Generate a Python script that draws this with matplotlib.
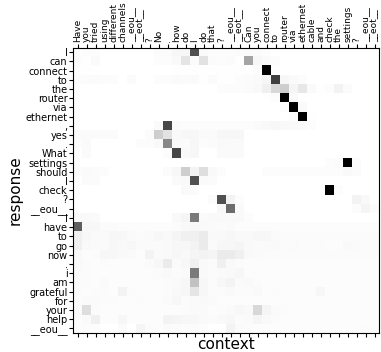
import numpy as np
import matplotlib
matplotlib.use("Agg")
import matplotlib.pyplot as plt

# tokens of the context (columns) and of the response (rows)
context = ["Have", "you", "tried", "using", "different", "channels", "__eou__", "__eot__",
           "?", "No", ".", "how", "do", "I", "do", "that", "?", "__eou__", "__eot__",
           "Can", "you", "connect", "to", "router", "via", "ethernet", "cable", "and",
           "check", "the", "settings", "?", "__eou__", "__eot__"]
response = ["I", "can", "connect", "to", "the", "router", "via", "ethernet", ",", "yes", ".",
            "What", "settings", "should", "I", "check", "?", "__eou__",
            "I", "have", "to", "go", "now", ".", "i", "am", "grateful", "for", "your", "help", "__eou__"]

# attention weights, one row per response token
w01 = [.01,.02,.02,0,0,0,0,0,0,.03,.03,.06,.07,.75,.04,.02,.02,.02,.03,.04,.03,.02,0,0,0,0,0,0,0,0,0,0,0,0]
w02 = [.02,.01,.04,0,0,0,0,0,0,.02,.02,.05,.18,.03,.2,.03,.02,.03,.01,.45,.06,.04,.02,0,0,0,0,0,0,0,0,0,0,0]
w03 = [.01,.01,.01,0,0,0,0,0,0,0,0,.01,.01,.01,.01,.01,.01,.01,.01,.01,.02,1.0,.01,0,0,0,0,0,0,0,0,0,0,0]
w04 = [.02,.03,.03,.02,.02,0,.03,0,0,.02,.02,.04,.03,.04,.01,.03,.01,.01,.02,.03,.04,.08,.8,.06,.04,.02,0,0,0,0,0,0,0,0]
w05 = [0,0,0,0,0,0,0,0,0,0,0,0,0,0,0,0,.02,.02,.02,.03,.05,.12,.25,.3,.08,.17,.04,.01,.02,.1,.03,0,0,0]
w06 = [0,0,0,0,0,0,0,0,0,0,0,0,0,0,0,0,0,0,0,0,0,.01,.02,1.0,.04,0,0,0,0,0,0,0,0,0]
w07 = [0,0,0,0,0,0,0,0,0,0,0,0,0,0,0,0,0,0,0,0,0,0,0,.02,1.0,.04,0,0,0,0,0,0,0,0]
w08 = [0,0,0,0,0,0,0,0,0,0,0,0,0,0,0,0,0,0,0,0,0,0,0,0,.02,1.0,.01,0,0,0,0,0,0,0]
w09 = [0,0,0,0,0,0,0,0,0,.04,.78,.03,.02,.02,.02,.02,.02,.02,.02,.02,.04,.05,.06,.05,.04,.04,.02,0,0,0,0,0,0,0]
w10 = [.03,.03,.03,.03,.03,0,0,0,.03,.3,.2,.05,.07,.07,.04,.04,.06,.06,.06,0,0,0,0,0,0,0,0,0,0,0,0,0,0,0]
w11 = [.02,.04,0,0,0,0,0,.02,.02,.05,.55,.05,.03,.07,.02,.03,.05,.04,.04,0,0,0,0,0,0,0,0,0,0,0,0,0,0,0]
w12 = [0,.04,0,0,0,0,0,0,0,0,.02,.78,.05,.06,0,0,.04,.04,.04,0,0,0,0,0,0,0,0,0,0,0,0,0,0,0]
w13 = [0,0,0,0,0,0,0,0,0,0,0,0,0,0,0,0,0,0,0,0,0,0,0,0,0,0,0,0,.02,.03,1.0,.03,0,0]
w14 = [.02,.04,.03,.02,0,0,0,0,0,0,.03,.07,.3,.1,.22,.05,.02,0,0,0,0,.02,.02,.02,.02,.02,.02,.02,.02,.02,.05,.03,0,0]
w15 = [0,.03,.03,0,0,0,0,0,0,0,0,.04,.05,.75,.04,.03,0,0,0,0,0,0,0,0,0,0,0,0,0,0,0,0,0,0]
w16 = [0,0,0,0,0,0,0,0,0,0,0,0,.04,.03,0,0,0,0,0,0,0,0,0,0,0,0,0,0,1.0,.02,0,0,0,0]
w17 = [0,0,0,0,0,0,0,0,0,0,0,0,0,0,0,.03,.75,.1,.02,0,0,0,0,0,0,0,0,0,0,0,0,.1,.05,0]
w18 = [0,0,0,0,0,0,0,0,0,0,0,0,0,0,0,0,.07,.65,.05,0,0,0,0,0,0,0,0,0,0,0,0,.02,.08,.03]
w19 = [.05,.05,.04,0,0,0,0,0,0,0,0,.05,.08,.6,.04,.05,.05,.05,.05,.02,0,0,0,0,0,0,0,0,0,0,0,0,0,0]
w20 = [.7,.06,.07,.03,.03,.02,.02,.02,.02,.02,.02,.03,.05,.06,.05,.04,.03,.04,.02,.02,.02,.02,.02,.02,.02,.02,.02,.02,.02,.02,.02,.02,.02,.02]
w21 = [.12,.06,.04,.04,.07,.07,.04,.03,.04,.06,.05,.08,.12,.12,.15,.05,.05,.06,.05,.05,.07,.06,.04,.03,.03,.03,.03,.03,.03,.03,.03,.03,.03,.03]
w22 = [.12,.05,.04,.04,.06,.05,.07,.04,.04,.04,.05,.06,.07,.1,.15,.04,.06,.07,.08,.05,.04,.04,.05,.03,.04,.03,.03,.03,.02,.02,.05,.04,.03,.03]
w23 = [.05,.02,.03,.06,.06,.05,.04,.02,.1,.04,.05,.06,.05,.08,.1,.08,.15,.15,.12,.05,.04,.03,.03,.03,.03,.03,.03,.03,.03,.03,.03,.03,.03,.03]
w24 = [.05,.03,.02,.03,.02,.02,.02,.02,.04,.06,.15,.04,.06,.12,.05,.03,.12,.05,.03,.02,.02,.02,.02,.02,.02,.02,.02,.02,.02,.02,.02,.02,.02,.02]
w25 = [.04,.03,.02,.02,.02,.02,.02,.02,.02,.03,.05,.03,.04,.6,.05,.03,.04,.05,.07,.02,.02,.02,.02,.02,.02,.02,.02,.02,.02,.02,.02,.02,.02,.02]
w26 = [.03,.03,.02,.04,.02,.02,.02,.02,.02,.02,.03,.04,.06,.35,.07,.03,.07,.1,.04,.05,.03,.02,.02,.02,.02,.02,.02,.02,.02,.02,.02,.02,.02,.02]
w27 = [.03,.02,.03,.03,.02,.1,.03,.02,.02,.02,.03,.05,.07,.18,.06,.03,.03,.05,.03,.03,.05,.02,.03,.02,.02,.02,.02,.07,.02,.02,.02,.02,.02,.02]
w28 = [.02,.04,.04,.03,.03,.02,.02,.03,.02,.02,.04,.07,.03,.04,.05,.04,.02,.02,.02,.02,.02,.02,.02,.02,.02,.02,.02,.02,.02,.02,.02,.02,.02,.02]
w29 = [.03,.22,.03,.02,.02,.02,.02,.02,.02,.02,.02,.02,.03,.04,.04,.02,.03,.04,.06,.05,.25,.08,.04,.03,.02,.02,.02,.02,.02,.02,.02,.02,.02,.02]
w30 = [.02,.04,.12,.02,.02,.06,.02,.02,.02,.02,.1,.08,.07,.07,.04,.03,.05,.06,.03,.04,.08,.05,.03,.02,.02,.02,.02,.02,.02,.02,.02,.02,.02,.02]
w31 = [.02,.02,.02,0,0,.03,0,.08,.03,.02,.04,.03,.02,.03,.02,0,0,.1,.04,.03,.02,.02,.02,.02,.02,.02,.02,.02,.02,.02,.02,.02,.03,.02]

weights = np.array([w01, w02, w03, w04, w05, w06, w07, w08, w09, w10, w11, w12, w13, w14, w15, w16,
                    w17, w18, w19, w20, w21, w22, w23, w24, w25, w26, w27, w28, w29, w30, w31])

fig = plt.figure(figsize=(3.81, 3.52), dpi=100)
ax = fig.add_axes([0.192, 0.054, 0.803, 0.811])
ax.imshow(weights, cmap="Greys", vmin=0, vmax=1, aspect="auto", interpolation="nearest")

ax.set_xticks(range(len(context)))
ax.set_xticklabels(context, rotation=90, fontsize=6.5)
ax.set_yticks(range(len(response)))
ax.set_yticklabels(response, fontsize=7)
ax.tick_params(axis="x", top=True, labeltop=True, bottom=True, labelbottom=False, length=3, pad=1)
ax.tick_params(axis="y", length=3, pad=1)

ax.set_xlabel("context", fontsize=11, labelpad=0)
ax.set_ylabel("response", fontsize=11, labelpad=2)

fig.savefig("out.png", dpi=100)
